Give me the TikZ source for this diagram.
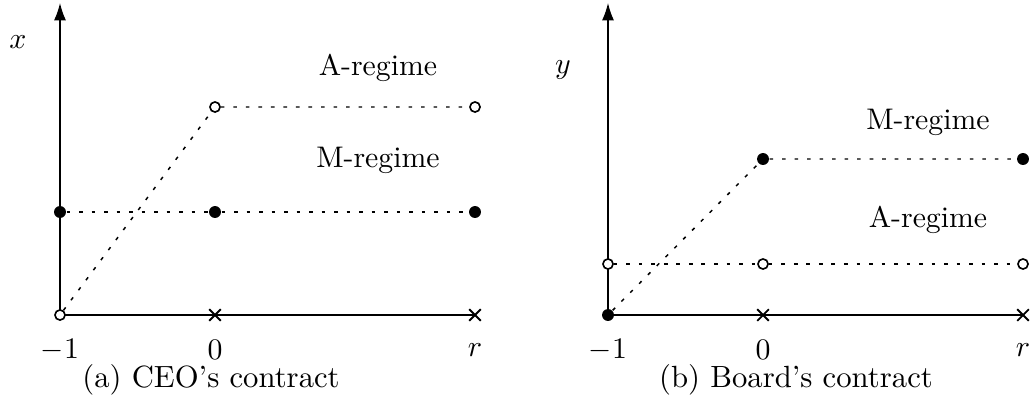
\documentclass[tikz,border=0pt]{standalone}
\usepackage{tikz}
\usetikzlibrary{arrows.meta,shapes.misc}

\begin{document}
\begin{tikzpicture}[
  x=0.3356pt, y=0.3356pt,
  axis/.style={line width=0.45pt},
  yaxis/.style={axis, -{Latex[length=5.8pt, width=4pt]}},
  guide/.style={dash pattern=on 1.2pt off 3pt, line width=0.5pt},
  full/.style={circle, fill, inner sep=0pt, minimum size=4pt},
  hollow/.style={circle, draw, fill=white, inner sep=0pt, minimum size=3.4pt, line width=0.55pt},
  mark x/.style={cross out, draw, inner sep=0pt, minimum size=3.3pt, line width=0.6pt},
  lbl/.style={inner sep=0pt},
  caption/.style={inner sep=0pt, font=\fontsize{10.3}{12.5}\selectfont}]
\useasboundingbox (0,0) rectangle (1035,418);
% (a) CEO's contract
\begin{scope}[shift={(60,103)}]
\coordinate (a-o) at (0,0);
\coordinate (a-top) at (0,312);
\coordinate (a-end) at (415,0);
\draw[axis] (a-o) -- (a-end);
\draw[yaxis] (a-o) -- (a-top);
\node[mark x] (a-x0) at (155,0) {};
\node[mark x] (a-xr) at (a-end) {};
\node[hollow] (a-h0) at (a-o) {};
\node[hollow] (a-h1) at (155,208) {};
\node[hollow] (a-h2) at (415,208) {};
\node[full] (a-f0) at (0,103) {};
\node[full] (a-f1) at (155,103) {};
\node[full] (a-f2) at (415,103) {};
\draw[guide] (a-h0) -- (a-h1) -- (a-h2);
\draw[guide] (a-f0) -- (a-f1) -- (a-f2);
\node[lbl] (a-lab) at (-42,273) {$x$};
\node[lbl] (a-areg) at (318,247) {A-regime};
\node[lbl] (a-mreg) at (318,155) {M-regime};
\node[lbl] (a-t1) at (0,-35) {$-1$};
\node[lbl] (a-t0) at (155,-35) {$0$};
\node[lbl] (a-tr) at (415,-35) {$r$};
\node[caption] (a-cap) at (151,-65) {(a) CEO's contract};
\end{scope}
% (b) Board's contract
\begin{scope}[shift={(608,103)}]
\coordinate (b-o) at (0,0);
\coordinate (b-top) at (0,312);
\coordinate (b-end) at (415,0);
\draw[axis] (b-o) -- (b-end);
\draw[yaxis] (b-o) -- (b-top);
\node[mark x] (b-x0) at (155,0) {};
\node[mark x] (b-xr) at (b-end) {};
\node[full] (b-f0) at (b-o) {};
\node[full] (b-f1) at (155,156) {};
\node[full] (b-f2) at (415,156) {};
\node[hollow] (b-h0) at (0,51) {};
\node[hollow] (b-h1) at (155,51) {};
\node[hollow] (b-h2) at (415,51) {};
\draw[guide] (b-f0) -- (b-f1) -- (b-f2);
\draw[guide] (b-h0) -- (b-h1) -- (b-h2);
\node[lbl] (b-lab) at (-45,245) {$y$};
\node[lbl] (b-mreg) at (320,193) {M-regime};
\node[lbl] (b-areg) at (320,95) {A-regime};
\node[lbl] (b-t1) at (0,-35) {$-1$};
\node[lbl] (b-t0) at (155,-35) {$0$};
\node[lbl] (b-tr) at (415,-35) {$r$};
\node[caption] (b-cap) at (188,-65) {(b) Board's contract};
\end{scope}
\end{tikzpicture}
\end{document}
